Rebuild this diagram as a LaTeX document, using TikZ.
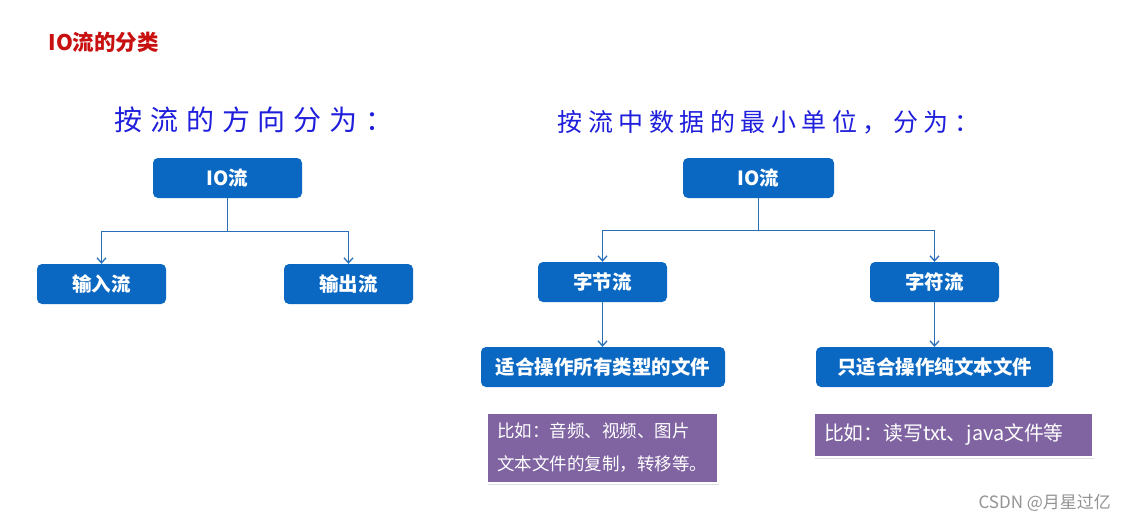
\documentclass[tikz,border=0pt]{standalone}
\usepackage{fontspec}
\setmainfont{Noto Sans CJK SC}
\newfontfamily\headA{Noto Sans CJK SC}[LetterSpace=28]
\newfontfamily\headB{Noto Sans CJK SC}[LetterSpace=22]
\usetikzlibrary{arrows.meta,shadows}
\definecolor{boxblue}{RGB}{10,104,194}
\definecolor{lineblue}{RGB}{40,110,185}
\definecolor{purp}{RGB}{128,100,162}
\definecolor{headblue}{RGB}{30,30,220}
\definecolor{titlered}{RGB}{200,16,16}
\begin{document}
\begin{tikzpicture}[x=1pt,y=-1pt,
  bluebox/.style={fill=boxblue, rounded corners=5pt, text=white, font=\bfseries\fontsize{19.5}{22}\selectfont, minimum height=40pt, inner sep=0pt},
  conn/.style={draw=lineblue, line width=1.3pt},
  arr/.style={conn, -{Straight Barb[length=5pt,width=9pt]}},
  notebox/.style={fill=purp, draw=white, line width=2.5pt, text=white, drop shadow={shadow xshift=1pt,shadow yshift=-1.5pt,opacity=0.25,fill=gray}, inner xsep=10pt, inner ysep=0pt, align=left}
]
\useasboundingbox (0,0) rectangle (1127,522);
\fill[white] (0,0) rectangle (1127,522);

\node[anchor=west, text=titlered, font=\bfseries\fontsize{21.5}{24}\selectfont] (title) at (45,42) {IO流的分类};

\node[anchor=west, text=headblue, font=\headA\fontsize{28}{30}\selectfont] (h1) at (111,120) {按流的方向分为：};
\node[anchor=west, text=headblue, font=\headB\fontsize{25}{27}\selectfont] (h2) at (554,122) {按流中数据的最小单位，分为：};

% left tree
\node[bluebox, minimum width=149pt] (io1) at (227.5,178) {IO流};
\node[bluebox, minimum width=129pt] (in1) at (101.5,284) {输入流};
\node[bluebox, minimum width=129pt] (out1) at (348.5,284) {输出流};
\draw[arr] (io1.south) -- ++(0,33) -| (in1.north);
\draw[arr] (io1.south) -- ++(0,33) -| (out1.north);

% right tree
\node[bluebox, minimum width=151pt] (io2) at (758.5,178) {IO流};
\node[bluebox, minimum width=129pt] (byte) at (602.5,282) {字节流};
\node[bluebox, minimum width=129pt] (char) at (934.5,282) {字符流};
\draw[arr] (io2.south) -- ++(0,32) -| (byte.north);
\draw[arr] (io2.south) -- ++(0,32) -| (char.north);

\node[bluebox, minimum width=244pt] (fit1) at (603,367) {适合操作所有类型的文件};
\node[bluebox, minimum width=237pt] (fit2) at (934.5,367) {只适合操作纯文本文件};
\draw[arr] (byte.south) -- (byte.south |- fit1.north);
\draw[arr] (char.south) -- (char.south |- fit2.north);

\node[notebox, text width=211pt, minimum height=70pt, font=\fontsize{17.5}{33}\selectfont] (note1) at (602.5,448) {比如：音频、视频、图片\\文本文件的复制，转移等。};
\node[notebox, text width=259pt, minimum height=44pt, font=\fontsize{19.8}{22}\selectfont] (note2) at (953.5,435) {比如：读写txt、java文件等};

\node[anchor=west, text=gray!85, font=\fontsize{17}{19}\selectfont] (wm) at (975,503) {CSDN @月星过亿};
\end{tikzpicture}
\end{document}
